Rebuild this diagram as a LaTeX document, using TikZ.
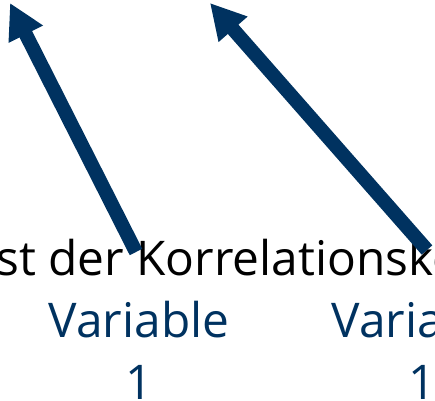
\documentclass[tikz,border=0pt]{standalone}
\usepackage{fontspec}
\setmainfont{Open Sans}
\usetikzlibrary{arrows.meta}
\definecolor{uniblue}{RGB}{0,50,96}
\begin{document}
\begin{tikzpicture}[x=0.025cm,y=-0.025cm,
    txt/.style={inner sep=0pt,font=\fontsize{34}{44}\selectfont},
    varlab/.style={txt,text=uniblue,align=center},
    pointer/.style={uniblue,line width=10pt,-{Triangle[length=0.875cm,width=0.9cm]}}]
  \useasboundingbox (0,0) rectangle (435,401);
  \clip (0,0) rectangle (435,401);
  \node[txt,anchor=base west] (caption) at (-4,275) {st der Korrelationsko};
  \node[varlab,anchor=base] (var1) at (139,399) {Variable\\1};
  \node[varlab,anchor=base] (var2) at (422,399) {Variable\\1};
  \coordinate (tip1) at (10,3);
  \coordinate (tip2) at (210,3);
  \coordinate (foot1) at (136,252);
  \coordinate (foot2) at (427,250);
  \draw[pointer] (foot1) -- (tip1);
  \draw[pointer] (foot2) -- (tip2);
\end{tikzpicture}
\end{document}
